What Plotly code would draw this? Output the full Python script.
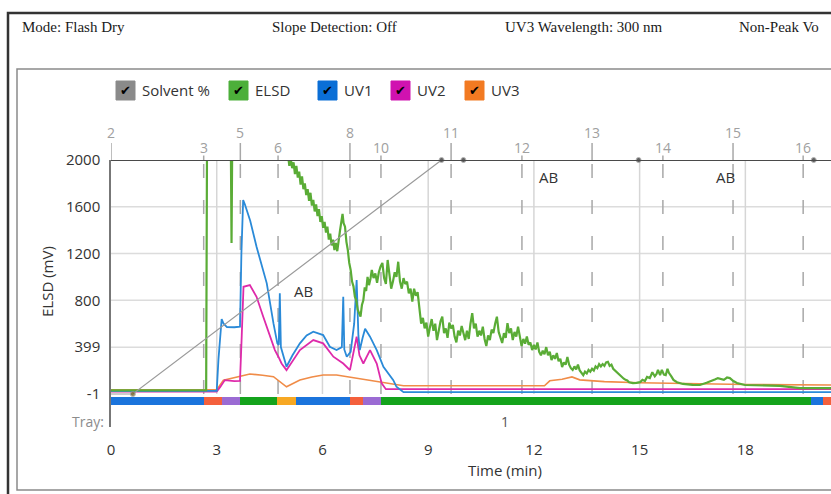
import plotly.graph_objects as go

# ---------------- data ----------------
time_ticks = [0, 3, 6, 9, 12, 15, 18]
y_ticks = [-1, 399, 800, 1200, 1600, 2000]
y_ticktext = ["-1", "399", "800", "1200", "1600", "2000"]

# Solvent % (gradient)
solv_t = [0, 0.62, 9.38, 10.0, 14.97, 19.94, 20.43]
solv_pct = [0, 0, 100, 100, 100, 100, 100]

# ELSD (mV) -- values above 2000 are off scale
elsd_t = [0, 1.5, 2.70, 2.73, 3.39, 3.42, 3.45, 5.0,
          5.02, 5.06, 5.10, 5.14, 5.18, 5.22, 5.26, 5.30, 5.34, 5.38, 5.42, 5.46, 5.50, 5.54,
          5.58, 5.62, 5.66, 5.70, 5.74, 5.78, 5.82, 5.86, 5.90, 5.94, 5.98, 6.02, 6.06, 6.10,
          6.14, 6.18, 6.22, 6.26, 6.30, 6.34, 6.38, 6.42, 6.46, 6.50, 6.54, 6.57, 6.60, 6.64,
          6.68, 6.72, 6.76, 6.80, 6.84, 6.88, 6.92, 6.96, 7.00, 7.04, 7.08, 7.12, 7.16, 7.20,
          7.24, 7.28, 7.32, 7.36,
          7.40, 7.45, 7.50, 7.55, 7.60, 7.65, 7.70, 7.75, 7.80, 7.85, 7.90, 7.95, 8.00, 8.05,
          8.10, 8.15, 8.20, 8.25, 8.30, 8.35, 8.40, 8.45, 8.50, 8.55, 8.60, 8.65, 8.70, 8.75,
          8.80, 8.85, 8.90, 8.95, 9.00, 9.05, 9.10, 9.15, 9.20, 9.25, 9.30, 9.35, 9.40, 9.45,
          9.50, 9.55, 9.60, 9.65, 9.70, 9.75, 9.80, 9.85, 9.90, 9.95, 10.00, 10.05, 10.10, 10.15,
          10.20, 10.25, 10.30, 10.35, 10.40, 10.45, 10.50, 10.55, 10.60, 10.65, 10.70, 10.75,
          10.80, 10.85, 10.90, 10.95, 11.00, 11.05, 11.10, 11.15, 11.20, 11.25, 11.30, 11.35,
          11.40, 11.45, 11.50, 11.55, 11.60, 11.65, 11.70, 11.75, 11.80, 11.85, 11.90, 11.95,
          12.00, 12.05, 12.10, 12.15, 12.20, 12.25, 12.30, 12.35, 12.40, 12.45, 12.50, 12.55,
          12.60, 12.65, 12.70, 12.75, 12.80, 12.85, 12.90, 12.95, 13.00, 13.05, 13.10, 13.15,
          13.20, 13.25, 13.30, 13.35, 13.40, 13.45, 13.50, 13.55, 13.60, 13.65, 13.70, 13.75,
          13.80, 13.85, 13.90, 13.95, 14.00, 14.05, 14.10, 14.15, 14.20, 14.25, 14.30, 14.35,
          14.40, 14.45, 14.50, 14.55, 14.60, 14.65, 14.70, 14.76, 14.81, 14.91, 15.01, 15.08,
          15.15, 15.21, 15.29, 15.36, 15.43, 15.48, 15.52, 15.58, 15.63, 15.69, 15.74, 15.79,
          15.83, 15.90, 15.96, 16.06, 16.23, 16.50, 16.71, 16.90, 17.05, 17.15, 17.22, 17.30,
          17.39, 17.48, 17.56, 17.66, 17.76, 17.99, 18.50, 18.98, 19.55, 20.43]
elsd_v = [30, 31, 32, 2600, 2600, 1290, 2600, 2600,
          2050, 1950, 2010, 1930, 1980, 1880, 1950, 1850, 1900, 1790, 1860, 1750, 1800, 1700,
          1750, 1650, 1720, 1610, 1660, 1560, 1620, 1520, 1580, 1470, 1520, 1420, 1470, 1380,
          1430, 1320, 1370, 1270, 1320, 1230, 1290, 1220, 1330, 1400, 1480, 1540, 1460, 1430,
          1300, 1230, 1120, 1060, 960, 920, 830, 800, 720, 680, 660, 760, 800, 910, 880,
          1000, 930, 980,
          1060, 990, 1030, 950, 1040, 1090, 1120, 990, 940, 1145, 1010, 900, 960, 1040,
          1000, 1130, 960, 900, 990, 940, 960, 860, 900, 790, 900, 840, 870, 720,
          600, 650, 560, 610, 490, 570, 640, 540, 600, 460, 560, 620, 660, 520,
          560, 480, 610, 560, 590, 490, 440, 540, 500, 580, 520, 460, 540, 470,
          600, 690, 560, 600, 490, 540, 500, 575, 470, 410, 500, 460,
          550, 520, 600, 660, 530, 470, 435, 520, 480, 605, 520, 560,
          460, 530, 490, 575, 470, 410, 470, 430, 490, 420, 440, 375,
          420, 380, 440, 360, 330, 370, 340, 400, 330, 360, 290, 330,
          300, 350, 280, 300, 230, 270, 250, 315, 250, 220, 205, 235,
          210, 250, 200, 180, 160, 190, 175, 205, 190, 215, 200, 235,
          220, 255, 235, 255, 240, 270, 275, 240, 250, 215, 200, 185,
          170, 155, 140, 130, 120, 115, 100, 95, 93, 95, 100, 120,
          110, 145, 135, 185, 150, 170, 205, 160, 205, 165, 160, 215,
          180, 150, 120, 100, 85, 78, 76, 95, 110, 125, 135, 125,
          120, 140, 135, 110, 93, 76, 70, 68, 50, 50]

# UV1
uv1_t = [0, 3.0, 3.05, 3.14, 3.19, 3.29, 3.50, 3.66, 3.70, 3.75, 3.80, 3.86, 3.95, 4.13,
         4.42, 4.61, 4.72, 4.76, 4.79, 4.82, 4.98, 5.15, 5.36, 5.55, 5.74, 6.02, 6.21, 6.40,
         6.55, 6.59, 6.62, 6.69, 6.80, 6.90, 6.97, 7.02, 7.06, 7.14, 7.21, 7.35, 7.54, 7.73,
         8.01, 8.10, 8.30, 13.08, 20.43]
uv1_v = [25, 26, 300, 640, 603, 572, 570, 575, 1200, 1658, 1620, 1560, 1480, 1258,
         945, 603, 432, 420, 860, 400, 232, 330, 432, 500, 532, 503, 403, 375,
         400, 831, 380, 318, 360, 600, 974, 500, 375, 480, 557, 489, 375, 232,
         118, 61, 15, 15, 15]

# UV2
uv2_t = [0, 3.0, 3.10, 3.23, 3.50, 3.66, 3.71, 3.76, 3.94, 4.13, 4.32, 4.51, 4.65, 4.75,
         4.84, 4.98, 5.15, 5.36, 5.74, 6.02, 6.31, 6.59, 6.78, 6.88, 6.97, 7.05, 7.16, 7.35,
         7.54, 7.68, 7.80, 20.43]
uv2_v = [20, 20, 60, 118, 110, 112, 500, 916, 930, 830, 660, 489, 375, 318,
         260, 203, 280, 375, 460, 432, 318, 260, 203, 350, 489, 330, 260, 375,
         260, 90, 40, 40]

# UV3
uv3_t = [0, 3.0, 3.19, 3.66, 3.94, 4.30, 4.61, 4.98, 5.36, 5.70, 6.02, 6.40, 6.69, 7.00,
         7.35, 7.91, 8.30, 12.30, 12.45, 12.80, 13.08, 13.30, 14.00, 15.00, 16.00, 18.00, 20.43]
uv3_v = [35, 36, 118, 147, 170, 160, 147, 61, 118, 145, 161, 161, 147, 135,
         118, 90, 70, 70, 112, 125, 145, 120, 105, 95, 88, 80, 76]

# fraction collection
frac_labels = ["2", "3", "5", "6", "8", "10", "11", "12", "13", "14", "15", "16"]
frac_t = [0, 2.63, 3.67, 4.74, 6.78, 7.66, 9.65, 11.66, 13.65, 15.66, 17.65, 19.64]
frac_high = [True, False, True, False, True, False, True, False, True, False, True, False]

tray_start = [0, 2.63, 3.15, 3.67, 4.71, 5.25, 6.78, 7.16, 7.66, 19.85, 20.2]
tray_end = [2.63, 3.15, 3.67, 4.71, 5.25, 6.78, 7.16, 7.66, 19.85, 20.2, 20.43]
tray_color = ["#1b74dc", "#f4603c", "#9b6bd3", "#14a31c", "#f7a823", "#1b74dc",
              "#f4603c", "#9b6bd3", "#14a31c", "#1b74dc", "#f4603c"]

ab_t = [5.45, 12.4, 17.45]
ab_v = [880, 1855, 1855]

legend_names = ["Solvent %", "ELSD", "UV1", "UV2", "UV3"]
legend_colors = ["#8a8a8a", "#4caf3a", "#0b6fd6", "#d012b0", "#f27a22"]

header_texts = ["Mode: Flash Dry", "Slope Detection: Off", "UV3 Wavelength: 300 nm", "Non-Peak Vo"]

# ---------------- layout geometry ----------------
W, H = 831, 494
ML, MR, MT, MB = 111, 0, 160, 67
PW = W - ML - MR
PH = H - MT - MB
X_MAX = 20.43
Y_MIN, Y_MAX = -283, 2000
Y2_RANGE = [(Y_MIN + 1) / 2001 * 100, (Y_MAX + 1) / 2001 * 100]

def px_x(x):
    return (x - ML) / PW

def px_y(y):
    return (H - MB - y) / PH

SANS = "Open Sans, Noto Sans, Arial, sans-serif"

fig = go.Figure()

# tray bar
fig.add_trace(go.Bar(
    orientation="h", y=[-61] * len(tray_start),
    x=[e - s for s, e in zip(tray_start, tray_end)], base=tray_start,
    width=68, marker=dict(color=tray_color, line=dict(width=0)),
    showlegend=False, hoverinfo="skip"))

fig.add_trace(go.Scatter(x=uv3_t, y=uv3_v, mode="lines", line=dict(color="#f08c48", width=1.6),
                         name="UV3", showlegend=False))
fig.add_trace(go.Scatter(x=uv2_t, y=uv2_v, mode="lines", line=dict(color="#de2aaa", width=1.8),
                         name="UV2", showlegend=False))
fig.add_trace(go.Scatter(x=uv1_t, y=uv1_v, mode="lines", line=dict(color="#2a8ad8", width=1.8),
                         name="UV1", showlegend=False))
fig.add_trace(go.Scatter(x=elsd_t, y=elsd_v, mode="lines", line=dict(color="#5aac36", width=2.2),
                         name="ELSD", showlegend=False))
fig.add_trace(go.Scatter(
    x=solv_t, y=solv_pct, yaxis="y2", mode="lines+markers",
    line=dict(color="#9a9a9a", width=1.2),
    marker=dict(size=[0, 5, 5, 5, 5, 5, 0], color=["#222", "#6b5a1a", "#222", "#222", "#222", "#222", "#222"],
                symbol="circle"),
    cliponaxis=False, name="Solvent %", showlegend=False))

shapes = []
# grid
for gv in [399, 800, 1200, 1600]:
    shapes.append(dict(type="line", xref="x", yref="y", x0=0, x1=X_MAX, y0=gv, y1=gv,
                       line=dict(color="#dcdcdc", width=1.5), layer="below"))
for gt in time_ticks[1:]:
    shapes.append(dict(type="line", xref="x", yref="y", x0=gt, x1=gt, y0=-1, y1=2000,
                       line=dict(color="#d6d6d6", width=1.5), layer="below"))
# fraction dashed lines and top ticks
for ft, hi in zip(frac_t, frac_high):
    if ft > 0:
        shapes.append(dict(type="line", xref="x", yref="y", x0=ft, x1=ft, y0=-1, y1=2000,
                           line=dict(color="#a8a8a8", width=1.5, dash="14px,22px"), layer="below"))
    shapes.append(dict(type="line", xref="x", yref="paper", x0=ft, x1=ft,
                       y0=1.0, y1=px_y(143 if hi else 155.5),
                       line=dict(color="#a8a8a8", width=1.5)))
# top 2000 line
shapes.append(dict(type="line", xref="x", yref="y", x0=0, x1=X_MAX, y0=2000, y1=2000,
                   line=dict(color="#4a4a4a", width=2)))
# frames
shapes.append(dict(type="rect", xref="paper", yref="paper", x0=px_x(8), x1=px_x(845),
                   y0=px_y(500), y1=px_y(13), line=dict(color="#333", width=2.5)))
shapes.append(dict(type="rect", xref="paper", yref="paper", x0=px_x(17), x1=px_x(845),
                   y0=px_y(490), y1=px_y(69), line=dict(color="#8a8a8a", width=1.5)))

annotations = []
# header
for txt, hx in zip(header_texts, [20, 270, 503, 737]):
    annotations.append(dict(text=txt, xref="paper", yref="paper", x=px_x(hx), y=px_y(27),
                            xanchor="left", yanchor="middle", showarrow=False,
                            font=dict(family="Liberation Serif, Times New Roman, serif", size=15, color="#1a1a1a")))
# legend
box_x = [116, 229, 318, 391, 465]
for name, col, bx in zip(legend_names, legend_colors, box_x):
    shapes.append(dict(type="rect", xref="paper", yref="paper", x0=px_x(bx), x1=px_x(bx + 19),
                       y0=px_y(100), y1=px_y(81), fillcolor=col, line=dict(color=col, width=1)))
    annotations.append(dict(text="✔", xref="paper", yref="paper", x=px_x(bx + 9.5), y=px_y(90),
                            xanchor="center", yanchor="middle", showarrow=False,
                            font=dict(family="DejaVu Sans", size=13, color="#000")))
    annotations.append(dict(text=name, xref="paper", yref="paper", x=px_x(bx + 24), y=px_y(90),
                            xanchor="left", yanchor="middle", showarrow=False,
                            font=dict(family=SANS, size=15, color="#333")))
# fraction labels
for lab, ft, hi in zip(frac_labels, frac_t, frac_high):
    annotations.append(dict(text=lab, xref="x", yref="paper", x=ft, y=px_y(132.5 if hi else 147),
                            xanchor="center", yanchor="middle", showarrow=False,
                            font=dict(family=SANS, size=14, color="#a0a0a0")))
# AB labels
for at, av in zip(ab_t, ab_v):
    annotations.append(dict(text="AB", xref="x", yref="y", x=at, y=av, showarrow=False,
                            xanchor="center", yanchor="middle",
                            font=dict(family=SANS, size=15, color="#333")))
# tray labels
annotations.append(dict(text="Tray:", xref="paper", yref="paper", x=px_x(106), y=px_y(421),
                        xanchor="right", yanchor="middle", showarrow=False,
                        font=dict(family=SANS, size=14, color="#8c8c8c")))
annotations.append(dict(text="1", xref="x", yref="paper", x=11.18, y=px_y(421),
                        xanchor="center", yanchor="middle", showarrow=False,
                        font=dict(family=SANS, size=14, color="#555")))
# axis titles
annotations.append(dict(text="ELSD (mV)", xref="paper", yref="paper", x=px_x(47), y=px_y(282),
                        textangle=-90, xanchor="center", yanchor="middle", showarrow=False,
                        font=dict(family=SANS, size=15, color="#333")))
annotations.append(dict(text="Time (min)", xref="paper", yref="paper", x=px_x(505), y=px_y(470),
                        xanchor="center", yanchor="middle", showarrow=False,
                        font=dict(family=SANS, size=15, color="#333")))

fig.update_layout(
    width=W, height=H,
    margin=dict(l=ML, r=MR, t=MT, b=MB, pad=0),
    paper_bgcolor="white", plot_bgcolor="white",
    showlegend=False, bargap=0,
    xaxis=dict(range=[0, X_MAX], tickvals=time_ticks, ticktext=[str(v) for v in time_ticks],
               showgrid=False, zeroline=False, showline=False, ticks="",
               ticklabelstandoff=12, tickfont=dict(family=SANS, size=15, color="#333")),
    yaxis=dict(range=[Y_MIN, Y_MAX], tickvals=y_ticks, ticktext=y_ticktext,
               showgrid=False, zeroline=False, showline=True, linecolor="#777", linewidth=1.5,
               ticks="", ticklabelstandoff=6, tickfont=dict(family=SANS, size=15, color="#333")),
    yaxis2=dict(range=Y2_RANGE, overlaying="y", side="right", visible=False),
    shapes=shapes, annotations=annotations,
)

fig.write_html("out.html")
